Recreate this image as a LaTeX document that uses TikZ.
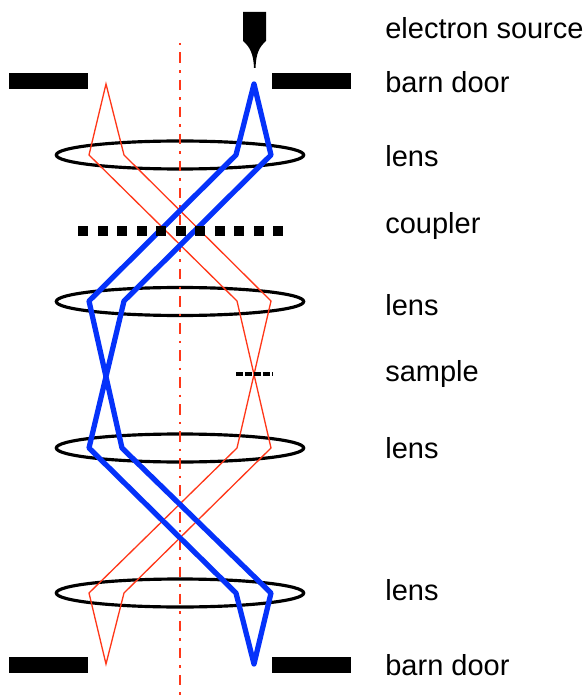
\documentclass[tikz,border=0pt]{standalone}
\usepackage{fontspec}
\setmainfont{Liberation Sans}
\usetikzlibrary{shapes.geometric}
\definecolor{beamblue}{RGB}{5,50,250}
\definecolor{beamred}{RGB}{255,55,25}
\tikzset{
  lens/.style={draw,ellipse,line width=1.8pt,minimum width=4.95cm,minimum height=0.56cm,inner sep=0pt},
  door/.style={fill=black,minimum width=1.58cm,minimum height=0.33cm,inner sep=0pt},
  hole/.style={fill=black,minimum size=0.2cm,inner sep=0pt},
  tag/.style={anchor=west,inner sep=0pt,font=\fontsize{16.5}{18}\selectfont},
  thinray/.style={draw=beamred,line width=0.75pt,line join=miter},
  thickray/.style={draw=beamblue,line width=3pt,line join=round}
}
\begin{document}
\begin{tikzpicture}[x=0.02cm,y=-0.02cm]
    \useasboundingbox (0,0) rectangle (584,695);
    % lenses
    \foreach \name/\ypos in {lensa/155,lensb/301.5,lensc/448,lensd/593}
      \node[lens] (\name) at (180,\ypos) {};
    % barn doors
    \node[door] (doorul) at (48.5,81) {};
    \node[door] (doorur) at (311.5,81) {};
    \node[door] (doorll) at (48.5,665) {};
    \node[door] (doorlr) at (311.5,665) {};
    % outer beam
    \draw[thinray] (106,84)--(89,155)--(237,301)--(271,448)--(124,593)--(106,664)
      --(89,593)--(237,448)--(271,301)--(124,155)--cycle;
    % axis
    \coordinate (axistop) at (180,43);
    \coordinate (axisend) at (180,695);
    \draw[beamred,line width=1.7pt,dash pattern=on 1.4pt off 4pt on 6pt off 4pt] (axistop)--(axisend);
    % main beam
    \draw[thickray] (254,84)--(236,155)--(89,301)--(122,448)--(271,593)--(254,664)
      --(236,593)--(89,448)--(124,301)--(271,155)--cycle;
    % coupler
    \foreach \i in {0,...,10}
      \node[hole] (hole\i) at ({83+19.5*\i},231) {};
    % sample
    \coordinate (samplea) at (236,374);
    \coordinate (sampleb) at (272,374);
    \draw[line width=1.8pt,dash pattern=on 4.1pt off 1pt] (samplea)--(sampleb);
    % source
    \fill (243,12)--(266,12)--(266,41) .. controls (259,47) and (256,54) .. (255.5,68)
      --(254,68) .. controls (253.5,54) and (250,47) .. (243,41)--cycle;
    % labels
    \node[tag] (tagsource) at (385,28) {electron source};
    \node[tag] (tagdoora) at (385,82) {barn door};
    \node[tag] (taglensa) at (385,156) {lens};
    \node[tag] (tagcoupler) at (385,226) {coupler};
    \node[tag] (taglensb) at (385,305) {lens};
    \node[tag] (tagsample) at (385,374) {sample};
    \node[tag] (taglensc) at (385,448) {lens};
    \node[tag] (taglensd) at (385,590) {lens};
    \node[tag] (tagdoorb) at (385,665) {barn door};
  \end{tikzpicture}
\end{document}
